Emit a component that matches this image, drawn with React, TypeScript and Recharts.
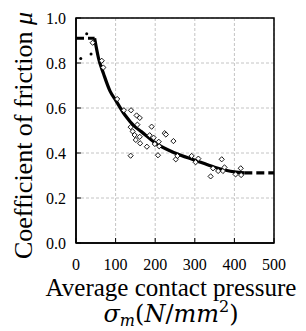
import {
  CartesianGrid,
  ComposedChart,
  Line,
  ReferenceArea,
  Scatter,
  XAxis,
  YAxis,
} from 'recharts'

// fitted curve
const fitSigma = [47, 57, 70, 86, 100, 123, 150, 165, 200, 250, 300, 350, 400, 425]
const fitMu = [0.91, 0.82, 0.75, 0.675, 0.635, 0.57, 0.515, 0.495, 0.445, 0.4, 0.368, 0.337, 0.316, 0.312]

// dashed extrapolation at both ends
const lowSigma = [0, 47]
const lowMu = [0.91, 0.91]
const highSigma = [425, 500]
const highMu = [0.312, 0.312]

// measured points (low-pressure ones are drawn as small dots)
const dotSigma = [12, 27, 38]
const dotMu = [0.82, 0.93, 0.84]
const pointSigma = [
  42, 65, 69, 104, 121, 139, 153, 161, 138, 143, 155, 151, 162, 161, 138, 179, 191,
  186, 196, 199, 209, 207, 224, 227, 246, 252, 256, 292, 309, 302, 340, 346, 359, 368, 371, 375,
  403, 416, 417, 210, 148,
]
const pointMu = [
  0.89, 0.81, 0.78, 0.64, 0.59, 0.59, 0.567, 0.556, 0.515, 0.496, 0.526, 0.458,
  0.443, 0.472, 0.388, 0.428, 0.517, 0.479, 0.468, 0.44, 0.45, 0.39, 0.488, 0.482, 0.453, 0.372,
  0.387, 0.387, 0.375, 0.359, 0.296, 0.332, 0.32, 0.372, 0.32, 0.336, 0.305, 0.332, 0.302, 0.43,
  0.48,
]

const xTicks = [0, 100, 200, 300, 400, 500]
const yTicks = [0, 0.2, 0.4, 0.6, 0.8, 1.0]

const zip = (xs: number[], ys: number[]) => xs.map((x, i) => ({ x, y: ys[i] }))

const fit = zip(fitSigma, fitMu)
const low = zip(lowSigma, lowMu)
const high = zip(highSigma, highMu)
const dots = zip(dotSigma, dotMu)
const points = zip(pointSigma, pointMu)

const FONT = '"Liberation Serif", "Times New Roman", serif'

function Diamond(props: any) {
  const { cx, cy } = props
  const r = 2.6
  return (
    <polygon
      points={`${cx},${cy - r} ${cx + r},${cy} ${cx},${cy + r} ${cx - r},${cy}`}
      fill="#fff"
      stroke="#000"
      strokeWidth={0.9}
    />
  )
}

function SmallDot(props: any) {
  const { cx, cy } = props
  return <circle cx={cx} cy={cy} r={1.5} fill="#000" />
}

function YTitle({ viewBox }: any) {
  const cy = viewBox.y + viewBox.height / 2 + 5
  return (
    <text
      transform={`translate(32, ${cy}) rotate(-90)`}
      textAnchor="middle"
      fontFamily={FONT}
      fontSize={26}
      fill="#000"
    >
      Coefficient of friction <tspan fontStyle="italic">μ</tspan>
    </text>
  )
}

function XTitle({ viewBox }: any) {
  const cx = viewBox.x + viewBox.width / 2
  return (
    <g fontFamily={FONT} fill="#000">
      <text x={cx - 4} y={viewBox.y + 53} textAnchor="middle" fontSize={25}>
        Average contact pressure
      </text>
      <text x={cx - 4} y={viewBox.y + 79} textAnchor="middle" fontSize={24} fontFamily='"DejaVu Serif", serif'>
        <tspan fontStyle="italic">σ</tspan>
        <tspan fontStyle="italic" fontSize={16} dy={4}>m</tspan>
        <tspan dy={-4}>(</tspan>
        <tspan fontStyle="italic">N</tspan>
        <tspan>/</tspan>
        <tspan fontStyle="italic">mm</tspan>
        <tspan fontSize={16} dy={-10}>2</tspan>
        <tspan dy={10}>)</tspan>
      </text>
    </g>
  )
}

export default function App() {
  return (
    <div>
      <style>{'body{margin:0}'}</style>
      <ComposedChart
        width={306}
        height={331}
        margin={{ top: 18, right: 32, bottom: 0, left: 0 }}
        style={{ background: '#fff' }}
      >
        <CartesianGrid stroke="#c4c4c4" strokeDasharray="3 2" />
        <XAxis
          type="number"
          dataKey="x"
          domain={[0, 500]}
          ticks={xTicks}
          height={88}
          tick={{ fill: '#000', fontSize: 16, fontFamily: FONT }}
          tickSize={-5}
          tickMargin={21}
          tickLine={{ stroke: '#000' }}
          axisLine={{ stroke: '#000', strokeWidth: 1.5 }}
          label={<XTitle />}
        />
        <YAxis
          type="number"
          dataKey="y"
          domain={[0, 1]}
          ticks={yTicks}
          width={76}
          tickFormatter={(v: number) => v.toFixed(1)}
          tick={{ fill: '#000', fontSize: 16, fontFamily: FONT }}
          tickSize={-5}
          tickMargin={15}
          tickLine={{ stroke: '#000' }}
          axisLine={{ stroke: '#000', strokeWidth: 1.5 }}
          label={<YTitle />}
        />
        <ReferenceArea x1={0} x2={500} y1={0} y2={1} fill="none" stroke="#000" strokeWidth={1.5} fillOpacity={0} />
        <Scatter data={points} dataKey="y" shape={<Diamond />} isAnimationActive={false} />
        <Scatter data={dots} dataKey="y" shape={<SmallDot />} isAnimationActive={false} />
        <Line
          data={low}
          dataKey="y"
          type="linear"
          stroke="#000"
          strokeWidth={3.2}
          strokeDasharray="8 4"
          dot={false}
          isAnimationActive={false}
        />
        <Line
          data={fit}
          dataKey="y"
          type="monotone"
          stroke="#000"
          strokeWidth={3.2}
          dot={false}
          isAnimationActive={false}
        />
        <Line
          data={high}
          dataKey="y"
          type="linear"
          stroke="#000"
          strokeWidth={3.2}
          strokeDasharray="8 4"
          dot={false}
          isAnimationActive={false}
        />
      </ComposedChart>
    </div>
  )
}
